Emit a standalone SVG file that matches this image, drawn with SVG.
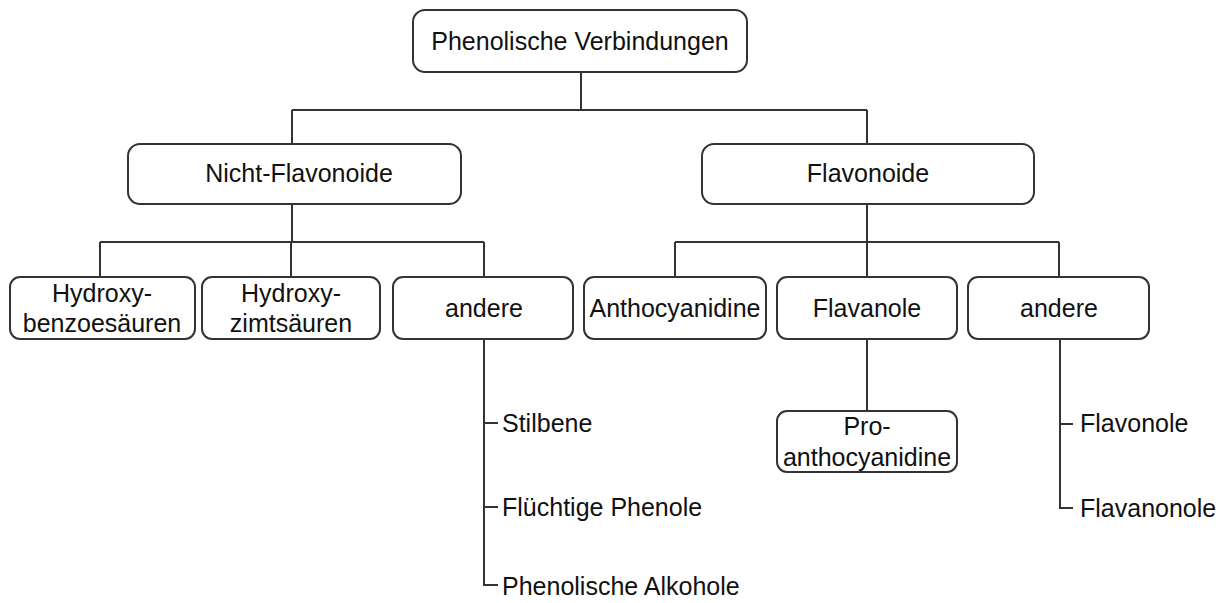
<svg xmlns="http://www.w3.org/2000/svg" width="1230" height="603" viewBox="0 0 1230 603">
<style>
.box{fill:#fff;stroke:#333;stroke-width:2}
.t{font-family:"Liberation Sans",Arial,sans-serif;font-size:25px;fill:#111;text-anchor:middle}
.s{font-family:"Liberation Sans",Arial,sans-serif;font-size:25px;fill:#111}
.c{fill:none;stroke:#333;stroke-width:2}
</style>
<rect width="1230" height="603" fill="#fff"/>
<g id="connectors">
<path class="c" d="M581 72V110M292 110H867M292 110V144M867 110V144"/>
<path class="c" d="M292 204V242M100 242H484M100 242V277M291 242V277M484 242V277"/>
<path class="c" d="M867 204V242M675 242H1059M675 242V277M867 242V277M1059 242V277"/>
<path class="c" d="M484 339V585H498M484 423H498M484 507H498"/>
<path class="c" d="M867 339V411"/>
<path class="c" d="M1060 339V508H1073M1060 424H1073"/>
</g>
<g id="n-root"><rect class="box" x="413" y="10" width="334" height="62" rx="12"/><text class="t" x="580" y="50">Phenolische Verbindungen</text></g>
<g id="n-nicht"><rect class="box" x="128" y="144" width="333" height="60" rx="12"/><text class="t" x="299" y="182">Nicht-Flavonoide</text></g>
<g id="n-flav"><rect class="box" x="702" y="144" width="332" height="60" rx="12"/><text class="t" x="868" y="182">Flavonoide</text></g>
<g id="n-hb"><rect class="box" x="10" y="277" width="185" height="62" rx="10"/><text class="t" x="102" y="302">Hydroxy-</text><text class="t" x="102" y="332">benzoesäuren</text></g>
<g id="n-hz"><rect class="box" x="202" y="277" width="178" height="62" rx="10"/><text class="t" x="291" y="302">Hydroxy-</text><text class="t" x="291" y="332">zimtsäuren</text></g>
<g id="n-andere1"><rect class="box" x="393" y="277" width="180" height="62" rx="10"/><text class="t" x="484" y="317">andere</text></g>
<g id="n-antho"><rect class="box" x="584" y="277" width="182" height="62" rx="10"/><text class="t" x="675" y="317">Anthocyanidine</text></g>
<g id="n-flavanole"><rect class="box" x="777" y="277" width="180" height="62" rx="10"/><text class="t" x="867" y="317">Flavanole</text></g>
<g id="n-andere2"><rect class="box" x="968" y="277" width="181" height="62" rx="10"/><text class="t" x="1059" y="317">andere</text></g>
<g id="n-pro"><rect class="box" x="777" y="411" width="180" height="61" rx="10"/><text class="t" x="867" y="435">Pro-</text><text class="t" x="867" y="466">anthocyanidine</text></g>
<g id="n-stilbene"><text class="s" x="502" y="432">Stilbene</text></g>
<g id="n-fluechtig"><text class="s" x="502" y="516">Flüchtige Phenole</text></g>
<g id="n-alkohole"><text class="s" x="502" y="595">Phenolische Alkohole</text></g>
<g id="n-flavonole"><text class="s" x="1080" y="432">Flavonole</text></g>
<g id="n-flavanonole"><text class="s" x="1080" y="517">Flavanonole</text></g>
</svg>
